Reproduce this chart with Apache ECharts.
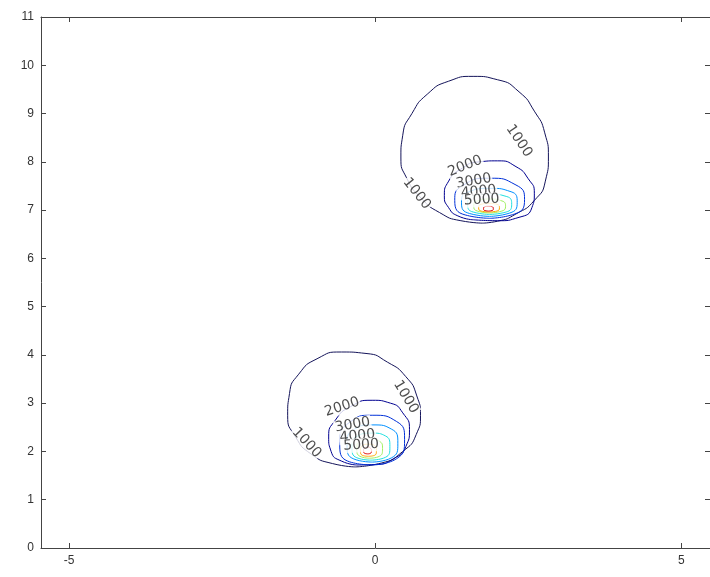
<!DOCTYPE html>
<html><head><meta charset="utf-8">
<script src="https://cdn.jsdelivr.net/npm/echarts@6/dist/echarts.min.js"></script>
<style>html,body{margin:0;padding:0;background:#fff}#c{width:710px;height:577px}</style>
</head><body><div id="c"></div>
<script>
// Axis ticks
const xTicks = [-5, 0, 5];
const yTicks = [0,1,2,3,4,5,6,7,8,9,10,11];
const levels = [1000,2000,3000,4000,5000,6000,7000,8000];

// Upper cluster contours (x,y pairs), one per level
const up1000 = [[1.75,6.73],[1.4,6.78],[1.05,6.95],[0.75,7.25],[0.52,7.65],[0.42,8.1],[0.45,8.55],[0.6,9.0],[0.85,9.4],[1.2,9.67],[1.6,9.77],[2.0,9.7],[2.35,9.45],[2.6,9.05],[2.77,8.6],[2.83,8.1],[2.78,7.6],[2.6,7.2],[2.3,6.92],[2.0,6.77],[1.75,6.73]];
const up2000 = [[1.6,6.8],[1.35,6.88],[1.2,7.05],[1.13,7.3],[1.2,7.6],[1.4,7.85],[1.7,8.0],[2.0,8.02],[2.3,7.9],[2.5,7.65],[2.6,7.35],[2.56,7.05],[2.35,6.85],[2.0,6.78],[1.6,6.8]];
const up3000 = [[1.87,6.83],[1.47,6.9],[1.3,7.2],[1.42,7.5],[1.87,7.66],[2.3,7.52],[2.44,7.22],[2.28,6.92],[1.87,6.83]];
const up4000 = [[1.87,6.87],[1.54,6.93],[1.41,7.15],[1.51,7.37],[1.87,7.45],[2.22,7.38],[2.32,7.16],[2.2,6.94],[1.87,6.87]];
const up5000 = [[1.87,6.91],[1.6,6.96],[1.51,7.12],[1.59,7.28],[1.87,7.33],[2.15,7.28],[2.23,7.12],[2.14,6.96],[1.87,6.91]];
const up6000 = [[1.87,6.94],[1.67,6.98],[1.61,7.08],[1.67,7.19],[1.87,7.23],[2.07,7.19],[2.13,7.08],[2.07,6.98],[1.87,6.94]];
const up7000 = [[1.86,6.96],[1.73,6.98],[1.69,7.05],[1.73,7.12],[1.86,7.14],[1.99,7.12],[2.03,7.05],[1.99,6.98],[1.86,6.96]];
const up8000 = [[1.85,6.98],[1.79,6.99],[1.77,7.03],[1.79,7.07],[1.85,7.08],[1.91,7.07],[1.93,7.03],[1.91,6.99],[1.85,6.98]];

// Lower cluster contours
const lo1000 = [[-0.33,1.68],[-0.7,1.75],[-1.05,1.95],[-1.3,2.3],[-1.43,2.75],[-1.4,3.2],[-1.25,3.6],[-0.95,3.92],[-0.55,4.06],[-0.15,4.03],[0.2,3.85],[0.5,3.55],[0.68,3.15],[0.74,2.75],[0.67,2.35],[0.45,2.0],[0.1,1.76],[-0.33,1.68]];
const lo2000 = [[-0.3,1.72],[-0.55,1.8],[-0.72,2.0],[-0.76,2.3],[-0.65,2.65],[-0.4,2.93],[-0.05,3.06],[0.25,3.0],[0.45,2.8],[0.56,2.45],[0.5,2.1],[0.3,1.85],[0.0,1.73],[-0.3,1.72]];
const lo3000 = [[-0.05,1.72],[-0.45,1.8],[-0.58,2.2],[-0.42,2.6],[-0.05,2.75],[0.35,2.62],[0.48,2.25],[0.35,1.85],[-0.05,1.72]];
const lo4000 = [[-0.05,1.78],[-0.36,1.85],[-0.46,2.15],[-0.35,2.45],[-0.05,2.55],[0.27,2.46],[0.37,2.17],[0.27,1.87],[-0.05,1.78]];
const lo5000 = [[-0.07,1.82],[-0.3,1.87],[-0.38,2.1],[-0.3,2.31],[-0.07,2.38],[0.17,2.32],[0.24,2.1],[0.17,1.88],[-0.07,1.82]];
const lo6000 = [[-0.09,1.86],[-0.25,1.9],[-0.3,2.06],[-0.25,2.21],[-0.09,2.26],[0.07,2.21],[0.12,2.06],[0.07,1.9],[-0.09,1.86]];
const lo7000 = [[-0.11,1.9],[-0.21,1.92],[-0.24,2.02],[-0.21,2.12],[-0.11,2.15],[-0.01,2.12],[0.02,2.02],[-0.01,1.92],[-0.11,1.9]];
const lo8000 = [[-0.12,1.95],[-0.17,1.96],[-0.19,2.02],[-0.17,2.07],[-0.12,2.09],[-0.08,2.07],[-0.06,2.02],[-0.08,1.96],[-0.12,1.95]];

// Contour labels
const labelText = ['1000','1000','2000','3000','4000','5000','1000','1000','2000','3000','4000','5000'];
const labelX = [0.68, 2.35, 1.47, 1.61, 1.69, 1.74, 0.5, -1.12, -0.54, -0.37, -0.29, -0.23];
const labelY = [7.34, 8.43, 7.91, 7.6, 7.38, 7.21, 3.13, 2.18, 2.92, 2.55, 2.32, 2.13];
const labelAngle = [-51, -56, 22, 10, 5, 3, -59, -47, 18, 10, 6, 3];

const levelColors = ['#14145A','#000090','#0030D8','#0090FF','#20E0E0','#A0F060','#FFA800','#E00000'];
const upper = [up1000, up2000, up3000, up4000, up5000, up6000, up7000, up8000];
const lower = [lo1000, lo2000, lo3000, lo4000, lo5000, lo6000, lo7000, lo8000];

const series = [];
[upper, lower].forEach(group => {
  group.forEach((pts, i) => {
    series.push({
      type: 'line', name: String(levels[i]), data: pts, smooth: 0.6,
      showSymbol: false, symbol: 'none', silent: true, animation: false,
      lineStyle: { color: levelColors[i], width: 1 }, z: 2
    });
  });
});
series.push({
  type: 'scatter', symbolSize: 0, animation: false, silent: true, z: 5,
  data: labelText.map((t, i) => ({
    value: [labelX[i], labelY[i]], name: t,
    label: { rotate: labelAngle[i] }
  })),
  label: {
    show: true, position: 'inside', formatter: p => p.name,
    fontFamily: 'DejaVu Sans, sans-serif', fontSize: 14, color: '#222',
    backgroundColor: '#fff', padding: [0, 1]
  }
});

const axisCommon = {
  axisLine: { show: true, onZero: false, lineStyle: { color: '#444', width: 1 } },
  axisTick: { show: true, inside: true, length: 5, lineStyle: { color: '#444' } },
  splitLine: { show: false },
  axisLabel: { color: '#333', fontFamily: 'Liberation Sans, Arial, sans-serif', fontSize: 12 }
};

const option = {
  animation: false,
  backgroundColor: '#fff',
  grid: { left: 41, top: 17, right: -2, bottom: 29, containLabel: false },
  xAxis: [
    Object.assign({}, axisCommon, { type: 'value', position: 'bottom', min: -5.46, max: 5.47,
      axisTick: Object.assign({}, axisCommon.axisTick, { customValues: xTicks }),
      axisLabel: Object.assign({}, axisCommon.axisLabel, { customValues: xTicks, margin: 7 }) }),
    Object.assign({}, axisCommon, { type: 'value', position: 'top', min: -5.46, max: 5.47,
      axisTick: Object.assign({}, axisCommon.axisTick, { customValues: xTicks }),
      axisLabel: { show: false } })
  ],
  yAxis: [
    Object.assign({}, axisCommon, { type: 'value', position: 'left', min: 0, max: 11, interval: 1,
      axisLabel: Object.assign({}, axisCommon.axisLabel, { margin: 7 }) }),
    Object.assign({}, axisCommon, { type: 'value', position: 'right', min: 0, max: 11, interval: 1,
      axisLabel: { show: false } })
  ],
  series: series
};
const chart = echarts.init(document.getElementById('c'), null, { renderer: 'canvas' });
chart.setOption(option);
</script></body></html>
